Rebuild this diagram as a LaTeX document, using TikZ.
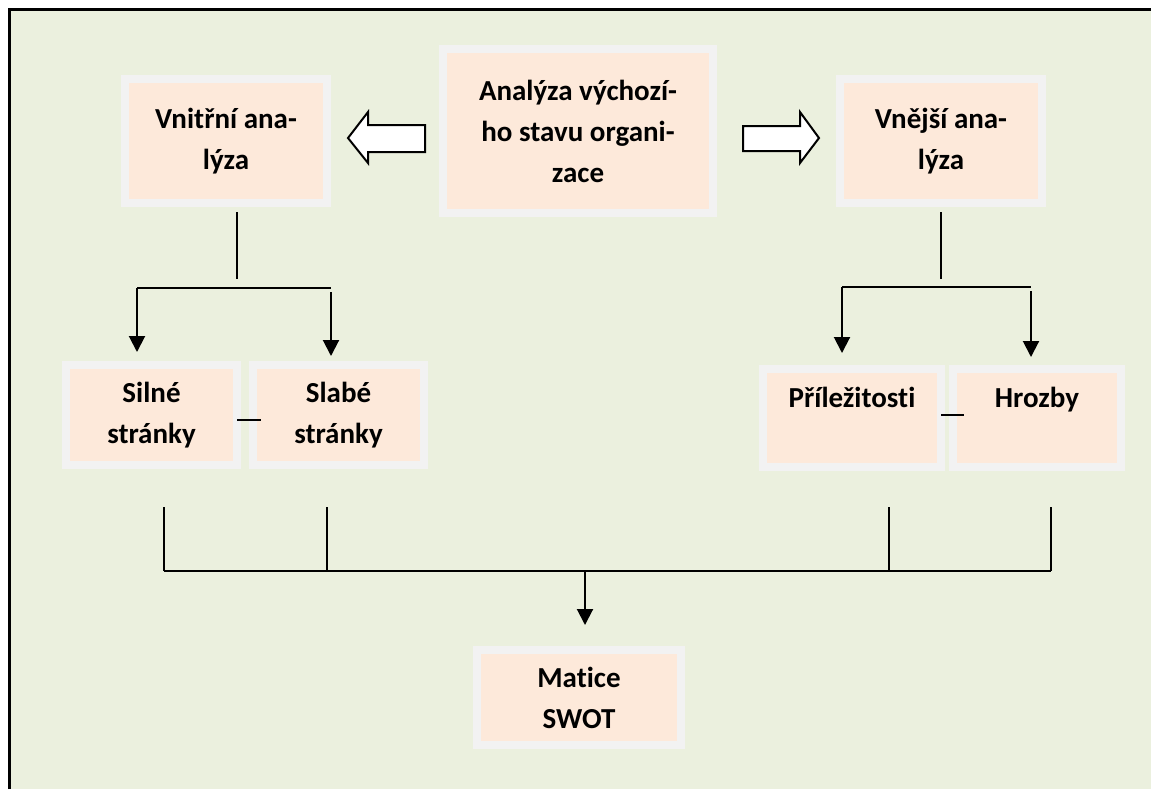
\documentclass[tikz,border=0pt]{standalone}
\usepackage{fontspec}
\setmainfont{Carlito}[Ligatures=NoCommon]
\usetikzlibrary{arrows.meta}
\definecolor{bggreen}{HTML}{EBF0DE}
\definecolor{boxfill}{HTML}{FDE9DA}
\definecolor{boxrim}{HTML}{F2F2F2}

\begin{document}
\begin{tikzpicture}[x=0.5pt, y=-0.5pt,
  box/.style = {fill=boxfill, draw=boxrim, line width=4pt, align=center,
                inner sep=0pt, font=\bfseries\fontsize{14.5}{20.5}\selectfont},
  link/.style = {line width=1pt},
  arr/.style = {line width=1pt, -{Triangle[width=8pt,length=8pt]}},
  blockarrow/.style = {fill=white, draw=black, line width=1pt}]
\useasboundingbox (0,0) rectangle (1151,789);
\fill [bggreen] (9,9) rectangle (1151,789);
\draw [line width=1.5pt] (9,789) -- (9,9) -- (1151,9);

% boxes
\node [box, minimum width=135pt, minimum height=82pt] (start) at (578,131) {Analýza výchozí-\\ho stavu organi-\\zace};
\node [box, minimum width=101pt, minimum height=62pt] (vnitrni) at (226,141) {Vnitřní ana-\\lýza};
\node [box, minimum width=101pt, minimum height=62pt] (vnejsi) at (941,141) {Vnější ana-\\lýza};
\node [box, minimum width=85.5pt, minimum height=50pt] (silne) at (151.5,415) {Silné\\stránky};
\node [box, minimum width=85.5pt, minimum height=50pt] (slabe) at (338.5,415) {Slabé\\stránky};
\node [box, minimum width=89pt, minimum height=49pt] (prilez) at (852,418) {Příležitosti\\\mbox{}};
\node [box, minimum width=84pt, minimum height=49pt] (hrozby) at (1037,418) {Hrozby\\\mbox{}};
\node [box, minimum width=102pt, minimum height=47.5pt] (swot) at (579,697.5) {Matice\\SWOT};

% block arrows
\filldraw [blockarrow] (425,125) -- (368,125) -- (368,112) -- (348,138) -- (368,163) -- (368,152) -- (425,152) -- cycle;
\filldraw [blockarrow] (743,126) -- (800,126) -- (800,112) -- (819,138) -- (800,163) -- (800,151) -- (743,151) -- cycle;

% left branch
\coordinate (ltop) at (237,212);
\coordinate (lbot) at (237,279);
\coordinate (lbarL) at (137,288);
\coordinate (lbarR) at (331,288);
\draw [link] (ltop) -- (lbot);
\draw [link] (lbarL) -- (lbarR);
\draw [arr, shorten >=4.5pt] (lbarL) -- (lbarL |- silne.north);
\draw [arr, shorten >=2.5pt] ([yshift=-2pt]lbarR) -- (lbarR |- slabe.north);
\coordinate (ldash) at (237,420);
\draw [link] (ldash) -- ++(24,0);

% right branch
\coordinate (rtop) at (941,212);
\coordinate (rbot) at (941,279);
\coordinate (rbarL) at (842,287);
\coordinate (rbarR) at (1031,287);
\draw [link] (rtop) -- (rbot);
\draw [link] (rbarL) -- (rbarR);
\draw [arr, shorten >=6pt] (rbarL) -- (rbarL |- prilez.north);
\draw [arr, shorten >=4pt] ([yshift=-2pt]rbarR) -- (rbarR |- hrozby.north);
\coordinate (rdash) at (941,415);
\draw [link] (rdash) -- ++(23,0);

% collecting lines
\coordinate (c1) at (164,571);
\coordinate (c2) at (327,571);
\coordinate (c3) at (889,571);
\coordinate (c4) at (1051,571);
\coordinate (cmid) at (585,571);
\foreach \c in {c1,c2,c3,c4}
  \draw [link] (\c) -- ++(0,-64);
\draw [link] (c1) -- (c4);
\draw [arr, shorten >=10.5pt] (cmid) -- (cmid |- swot.north);
\end{tikzpicture}
\end{document}
